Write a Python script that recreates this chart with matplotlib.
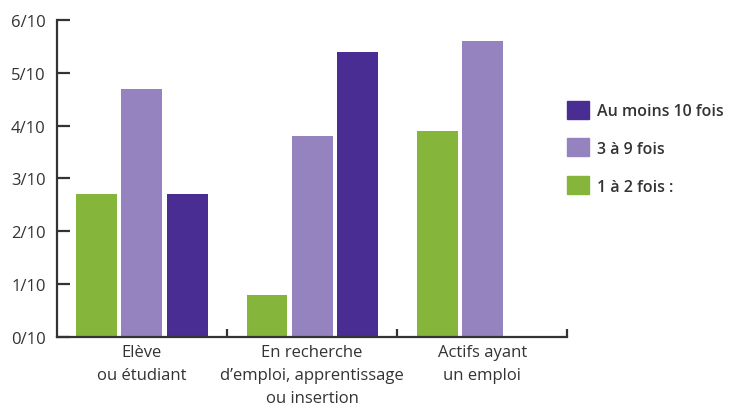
import numpy as np
import matplotlib.pyplot as plt
from matplotlib.patches import Patch

plt.rcParams['font.family'] = ['Open Sans', 'DejaVu Sans']

categories = ['Elève\nou étudiant',
              'En recherche\nd\u2019emploi, apprentissage\nou insertion',
              'Actifs ayant\nun emploi']
series_names = ['1 à 2 fois :', '3 à 9 fois', 'Au moins 10 fois']
values_1_2 = [2.7, 0.8, 3.9]
values_3_9 = [4.7, 3.8, 5.6]
values_10 = [2.7, 5.4, np.nan]
y_labels = ['0/10', '1/10', '2/10', '3/10', '4/10', '5/10', '6/10']

colors = ['#86b53b', '#9483bf', '#4a2d93']
text_color = '#333333'

fig = plt.figure(figsize=(7.3, 4.1), dpi=100)
ax = fig.add_axes([0.078, 0.1756, 0.699, 0.7732])

x = np.arange(len(categories))
w = 0.241
step = 0.265
for i, (vals, c) in enumerate(zip([values_1_2, values_3_9, values_10], colors)):
    ax.bar(x + (i - 1) * step, vals, width=w, color=c, zorder=2)

ax.set_xlim(-0.5, 2.5)
ax.set_ylim(0, 6)
ax.set_yticks(range(7))
ax.set_yticklabels(y_labels)
ax.set_xticks(x)
ax.set_xticklabels(categories, linespacing=1.6)
ax.set_xticks([0.5, 1.5, 2.5], minor=True)

for s in ['top', 'right']:
    ax.spines[s].set_visible(False)
for s in ['left', 'bottom']:
    ax.spines[s].set_color('#333333')
    ax.spines[s].set_linewidth(1.6)

ax.tick_params(axis='y', direction='in', length=9, width=1.6, color='#333333',
               labelsize=12, labelcolor=text_color, pad=8)
ax.tick_params(axis='x', which='major', length=0, labelsize=12,
               labelcolor=text_color, pad=5)
ax.tick_params(axis='x', which='minor', direction='in', length=6, width=1.6,
               color='#333333')

handles = [Patch(color=colors[2]), Patch(color=colors[1]), Patch(color=colors[0])]
labels = [series_names[2], series_names[1], series_names[0]]
leg = fig.legend(handles, labels, loc='upper left', bbox_to_anchor=(0.757, 0.787),
                 frameon=False, handlelength=1.35, handleheight=1.35,
                 handletextpad=0.5, labelspacing=1.22,
                 prop={'size': 11.5, 'weight': 'semibold'})
for t in leg.get_texts():
    t.set_color(text_color)

fig.savefig('out.png', dpi=100)
